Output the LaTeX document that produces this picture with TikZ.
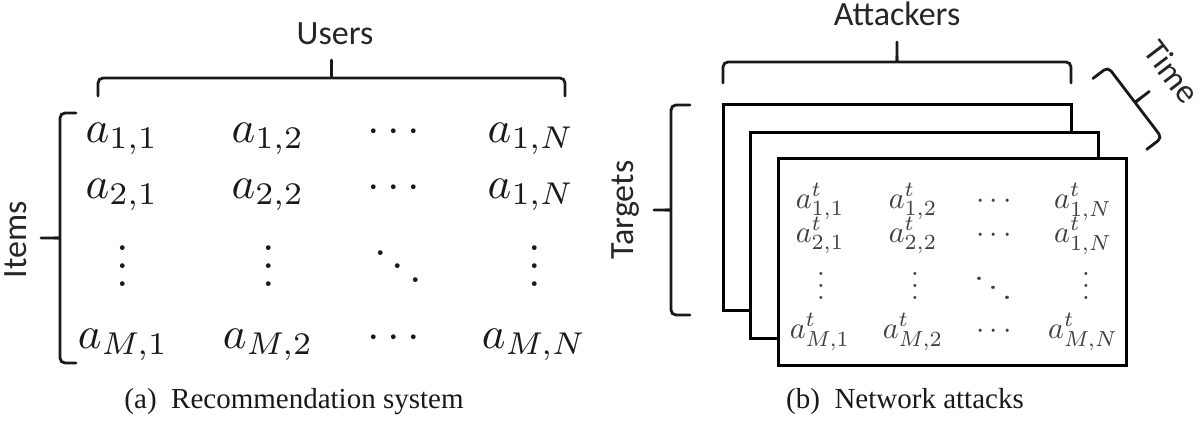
\documentclass[tikz,border=0pt]{standalone}
\usepackage{fontspec}
\newfontfamily\calib{Carlito}
\newfontfamily\tnr{Liberation Serif}
\tikzset{
  br/.style={line width=2.8pt, line cap=round, black!90},
  frm/.style={line width=3pt, fill=white, draw=black},
  lbl/.style={font=\calib\fontsize{34}{40}\selectfont, text=black!85, inner sep=0pt},
  capstyle/.style={font=\tnr\fontsize{29}{34}\selectfont, text=black!90, inner sep=0pt},
  ent/.style={inner sep=0pt, anchor=base, text=black!90},
  entb/.style={inner sep=0pt, anchor=base, text=black!75},
}
\newcommand\mybrace[5]{%
  \begin{scope}[shift={(#1)},rotate=#2]
    \draw[br] (0,#4) [rounded corners=5pt] -- (0,0) -- ({#3/2-6},0) [sharp corners] .. controls ({#3/2},0) .. ({#3/2},-6) -- ({#3/2},-#5);
    \draw[br] (#3,#4) [rounded corners=5pt] -- (#3,0) -- ({#3/2+6},0) [sharp corners] .. controls ({#3/2},0) .. ({#3/2},-6);
  \end{scope}}
\newcommand\La[1]{\scalebox{4.5}{$#1$}}
\newcommand\Ra[1]{\scalebox{3.0}[3.1]{$#1$}}
\begin{document}
\begin{tikzpicture}[x=1pt,y=-1pt]
\useasboundingbox (0,0) rectangle (1201,428);
% ---------- (a) ----------
\mybrace{98,78}{0}{467}{18}{18}
\mybrace{60,363}{90}{250}{16}{19}
\node[lbl, anchor=base] (users) at (335,45) {Users};
\node[lbl, rotate=90, anchor=base] (items) at (27,240) {Items};
\node[ent] (a11) at (122,142) {\La{a_{1,1}}};
\node[ent] (a12) at (268,142) {\La{a_{1,2}}};
\node[ent] (a1c) at (394,142) {\La{\cdots}};
\node[ent] (a1n) at (531,142) {\La{a_{1,N}}};
\node[ent] (a21) at (122,198) {\La{a_{2,1}}};
\node[ent] (a22) at (268,198) {\La{a_{2,2}}};
\node[ent] (a2c) at (394,198) {\La{\cdots}};
\node[ent] (a2n) at (531,198) {\La{a_{1,N}}};
\node[ent] (av1) at (123,286.5) {\La{\vdots}};
\node[ent] (av2) at (269,286.5) {\La{\vdots}};
\node[ent] (avd) at (398,286.5) {\La{\ddots}};
\node[ent] (avn) at (535,286.5) {\La{\vdots}};
\node[ent] (am1) at (123,348) {\La{a_{M,1}}};
\node[ent] (am2) at (268,348) {\La{a_{M,2}}};
\node[ent] (amc) at (394,348) {\La{\cdots}};
\node[ent] (amn) at (534,348) {\La{a_{M,N}}};
\node[capstyle, anchor=base] (capa) at (294,408) {(a)\hspace{0.5em}Recommendation system};
% ---------- (b) ----------
\mybrace{723,62}{0}{348}{21}{20}
\mybrace{671,315}{90}{210}{19}{17}
\mybrace{1108,67}{-52.7}{89}{19}{18}
\node[lbl, anchor=base] (attackers) at (897,26) {Attackers};
\node[lbl, rotate=90, anchor=base] (targets) at (633,210) {Targets};
\node[lbl, rotate=-52.7] (time) at (1172,72) {Time};
\draw[frm] (723,104) rectangle (1071,310);
\draw[frm] (750,132) rectangle (1098,338);
\draw[frm] (778,158) rectangle (1126,365);
\node[entb] (b11) at (820,208) {\Ra{a^t_{1,1}}};
\node[entb] (b12) at (913,208) {\Ra{a^t_{1,2}}};
\node[entb] (b1c) at (994,208) {\Ra{\cdots}};
\node[entb] (b1n) at (1083,208) {\Ra{a^t_{1,N}}};
\node[entb] (b21) at (820,242) {\Ra{a^t_{2,1}}};
\node[entb] (b22) at (913,242) {\Ra{a^t_{2,2}}};
\node[entb] (b2c) at (994,242) {\Ra{\cdots}};
\node[entb] (b2n) at (1083,242) {\Ra{a^t_{1,N}}};
\node[entb] (bv1) at (821,299) {\scalebox{2.8}[2.9]{$\vdots$}};
\node[entb] (bv2) at (915,299) {\scalebox{2.8}[2.9]{$\vdots$}};
\node[entb] (bvd) at (993,302.6) {\scalebox{3.6}[3.2]{$\ddots$}};
\node[entb] (bvn) at (1086,299) {\scalebox{2.8}[2.9]{$\vdots$}};
\node[entb] (bm1) at (820,338) {\Ra{a^t_{M,1}}};
\node[entb] (bm2) at (913,338) {\Ra{a^t_{M,2}}};
\node[entb] (bmc) at (994,338) {\Ra{\cdots}};
\node[entb] (bmn) at (1083,338) {\Ra{a^t_{M,N}}};
\node[capstyle, anchor=base] (capb) at (905,408) {(b)\hspace{0.5em}Network attacks};
\end{tikzpicture}
\end{document}
